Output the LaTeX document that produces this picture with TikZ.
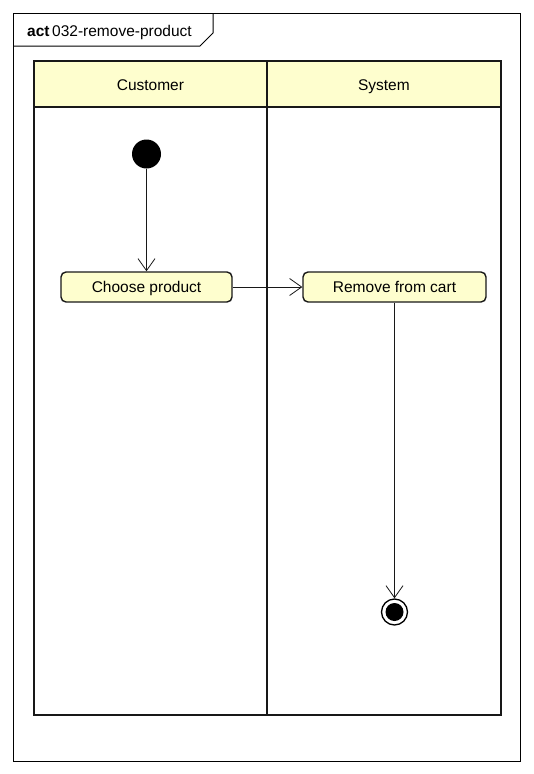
\documentclass[tikz,border=0pt]{standalone}
\usepackage{fontspec}
\setmainfont{Liberation Sans}
\usepackage{tikz}
\usetikzlibrary{arrows.meta,positioning,calc}
\usepackage{xcolor}
\definecolor{umlYellow}{HTML}{FEFECE}
\definecolor{umlLine}{HTML}{181818}

\begin{document}
\begin{tikzpicture}[
  x=1pt, y=-1pt,
  font=\fontsize{15.5}{18}\selectfont,
  >={Straight Barb[length=12pt,width=17pt]},
  lanebody/.style={
    draw=umlLine,
    line width=1.8pt,
    minimum height=654pt,
    anchor=north west,
    inner sep=0pt
  },
  lanehead/.style={
    draw=umlLine,
    fill=umlYellow,
    line width=1.8pt,
    minimum height=46pt,
    text height=1.4em,
    text depth=0em,
    anchor=north west,
    inner sep=0pt
  },
  actionbox/.style={
    draw=umlLine,
    fill=umlYellow,
    rounded corners=5pt,
    line width=1.4pt,
    minimum height=30pt,
    text height=1.1em,
    text depth=0.05em,
    inner sep=0pt
  },
  flow/.style={
    ->,
    line width=0.8pt,
    umlLine
  }
]
  \useasboundingbox (0,0) rectangle (533,774);

  % ----------------------------------------------------
  % FRAME WITH ITS TAB
  % ----------------------------------------------------
  \draw[line width=1pt] (13,13) rectangle (520,761);
  \draw[line width=1pt] (13,46) -- (200,46) -- (213,33) -- (213,13);
  \node[anchor=west, inner sep=0pt] (frame_lbl) at (27,32) {\textbf{act}\,032-remove-product};

  % ----------------------------------------------------
  % SWIMLANES
  % ----------------------------------------------------
  \node[lanebody, minimum width=233pt] (lane_cust) at (33,60) {};
  \node[lanebody, minimum width=234pt] (lane_sys) at (266,60) {};
  \node[lanehead, minimum width=233pt] (head_cust) at (33,60) {Customer};
  \node[lanehead, minimum width=234pt] (head_sys) at (266,60) {System};

  % ----------------------------------------------------
  % NODES
  % ----------------------------------------------------
  \node[circle, fill=black, minimum size=29pt, inner sep=0pt] (start) at (146.5,154) {};

  \node[actionbox, minimum width=171pt] (choose) at (146.5,287) {Choose product};
  \node[actionbox, minimum width=183pt] (remove) at (394.5,287) {Remove from cart};

  \node[circle, draw=black, line width=1.3pt, minimum size=26pt, inner sep=0pt] (final) at (394.5,612) {};
  \fill[black] (final) circle (9pt);

  % Control flow
  \draw[flow] (start) -- (choose);
  \draw[flow] (choose) -- (remove);
  \draw[flow] (remove) -- (final);

\end{tikzpicture}
\end{document}
